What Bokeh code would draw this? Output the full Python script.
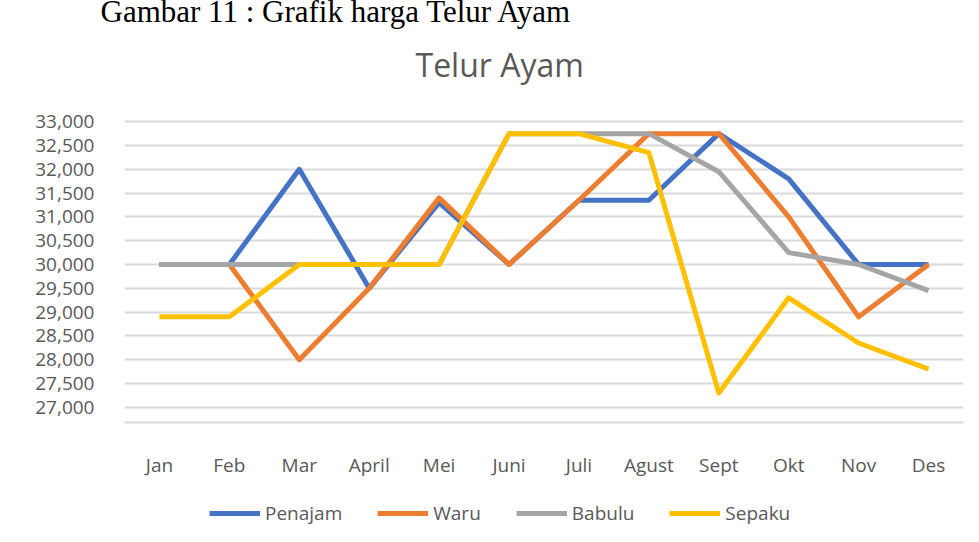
from bokeh.plotting import figure
from bokeh.models import (FactorRange, Range1d, SingleIntervalTicker, NumeralTickFormatter,
                          Legend, LegendItem, Title)
from bokeh.layouts import column
from bokeh.embed import file_html
from bokeh.resources import INLINE

# ---- data -------------------------------------------------------------
months = ["Jan", "Feb", "Mar", "April", "Mei", "Juni", "Juli", "Agust", "Sept", "Okt", "Nov", "Des"]
penajam = [30000, 30000, 32000, 29500, 31300, 30000, 31350, 31350, 32750, 31800, 30000, 30000]
waru    = [30000, 30000, 28000, 29500, 31400, 30000, 31350, 32750, 32750, 31000, 28900, 30000]
babulu  = [30000, 30000, 30000, 30000, 30000, 32750, 32750, 32750, 31950, 30250, 30000, 29450]
sepaku  = [28900, 28900, 30000, 30000, 30000, 32750, 32750, 32350, 27300, 29300, 28350, 27800]
series_names = ["Penajam", "Waru", "Babulu", "Sepaku"]
series_colors = ["#4472C4", "#ED7D31", "#A5A5A5", "#FFC000"]
chart_title = "Telur Ayam"
caption = "Gambar 11 : Grafik harga Telur Ayam"

TXT = "#595959"
FONT = "Open Sans"
all_series = [penajam, waru, babulu, sepaku]

# ---- main chart --------------------------------------------------------
p = figure(
    x_range=FactorRange(factors=months, range_padding=0),
    y_range=Range1d(26680, 33320),
    width=971, height=480,
    output_backend="svg", toolbar_location=None,
    min_border_left=124, min_border_right=8, min_border_top=106, min_border_bottom=56,
)
p.border_fill_color = "white"
p.background_fill_color = "white"
p.outline_line_color = None

# titles (first added = closest to the frame)
p.add_layout(Title(text=chart_title, align="left", offset=291, standoff=42,
                   text_font=FONT, text_font_size="32px", text_font_style="normal",
                   text_color=TXT), "above")
try:
    cap_title = Title(text=caption, align="left", offset=-24, standoff=-18,
                      text_font="Liberation Serif", text_font_size="31px",
                      text_font_style="normal", text_color="black")
except ValueError:
    cap_title = Title(text=caption, align="left", offset=-24, standoff=0,
                      text_font="Liberation Serif", text_font_size="31px",
                      text_font_style="normal", text_color="black")
p.add_layout(cap_title, "above")

for vals, col in zip(all_series, series_colors):
    p.line(months, vals, line_color=col, line_width=5, line_join="round", line_cap="butt")

# axes
p.yaxis.ticker = SingleIntervalTicker(interval=500, num_minor_ticks=0)
p.yaxis.formatter = NumeralTickFormatter(format="0,0")
p.yaxis.axis_line_color = None
p.yaxis.major_tick_line_color = None
p.yaxis.minor_tick_line_color = None
p.yaxis.major_label_standoff = 24
p.yaxis.major_label_text_font = FONT
p.yaxis.major_label_text_font_size = "19px"
p.yaxis.major_label_text_color = TXT

p.xaxis.axis_line_color = "#d9d9d9"
p.xaxis.axis_line_width = 2
p.xaxis.major_tick_line_color = None
p.xaxis.minor_tick_line_color = None
p.xaxis.major_label_standoff = 23
p.xaxis.major_label_text_font = FONT
p.xaxis.major_label_text_font_size = "19px"
p.xaxis.major_label_text_color = TXT

p.xgrid.grid_line_color = None
p.ygrid.grid_line_color = "#d9d9d9"
p.ygrid.grid_line_width = 2

# ---- legend strip (same series, out of view; only the legend shows) ----
pl = figure(
    x_range=FactorRange(factors=months, range_padding=0),
    y_range=Range1d(0, 1),
    width=971, height=54,
    output_backend="svg", toolbar_location=None,
    x_axis_type=None, y_axis_type=None,
    min_border_left=0, min_border_right=0, min_border_top=0, min_border_bottom=0,
)
pl.outline_line_color = None
pl.xgrid.grid_line_color = None
pl.ygrid.grid_line_color = None
pl.border_fill_color = "white"
pl.background_fill_color = "white"

leg_renderers = []
for vals, col in zip(all_series, series_colors):
    leg_renderers.append(pl.line(months, vals, line_color=col, line_width=5, line_cap="butt"))

legend = Legend(
    items=[LegendItem(label=n, renderers=[r]) for n, r in zip(series_names, leg_renderers)],
    orientation="horizontal", location=(85, 8),
    label_text_font=FONT, label_text_font_size="19px", label_text_color=TXT,
    glyph_width=51, glyph_height=8, label_height=20, label_standoff=5, spacing=35,
    padding=0, margin=0, border_line_alpha=0, background_fill_alpha=0,
)
pl.add_layout(legend)

layout = column(p, pl, spacing=0)
open("out.html", "w").write(file_html(layout, INLINE))
